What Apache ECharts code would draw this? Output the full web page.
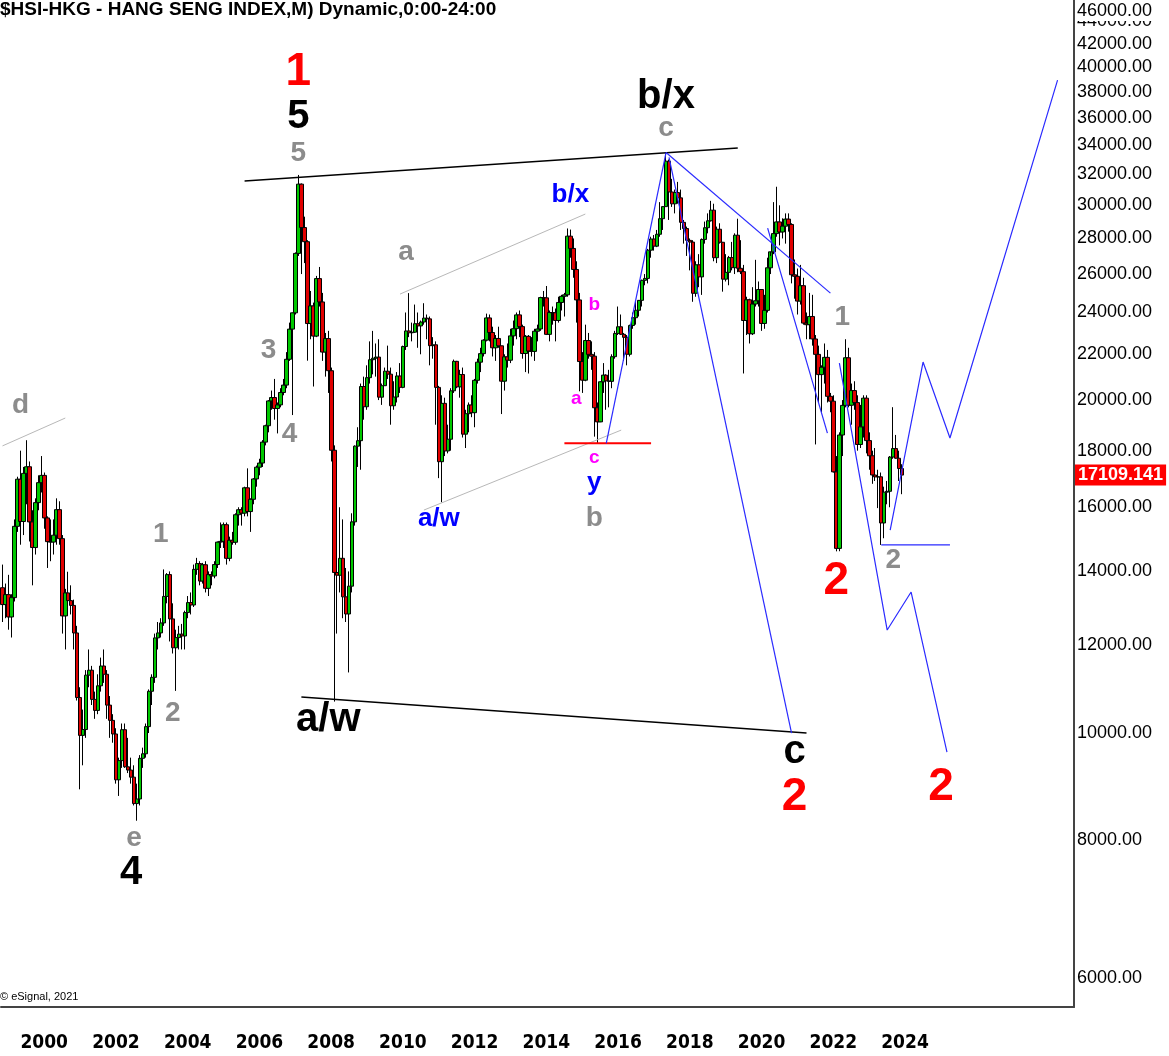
<!DOCTYPE html>
<html>
<head>
<meta charset="utf-8">
<script src="https://cdn.jsdelivr.net/npm/echarts@6/dist/echarts.min.js"></script>
<style>
html,body{margin:0;padding:0;background:#fff;}
#chart{width:1169px;height:1056px;}
</style>
</head>
<body>
<div id="chart"></div>
<script>
// ---------- DATA ----------
const startYear = 1999, startMonth = 7, monthCount = 359;   // axis runs Jul 1999 .. May 2029
const lastLabelYear = 2024;
const yTicks = [6000, 8000, 10000, 12000, 14000, 16000, 18000, 20000, 22000, 24000, 26000, 28000,
  30000, 32000, 34000, 36000, 38000, 40000, 42000, 44000];
const topTick = 46000;
const lastPrice = 17109.141;

// Monthly HSI candles [open, high, low, close], Jul 1999 .. Aug 2024
const candles = [
  // 1999 (Jul-Dec)
  [13532,14200,12600,13066],[13066,13650,12700,13339],[13339,13900,12400,12733],[12733,13350,12200,13256],[13256,15600,13150,15377],[15377,17050,15200,16962],
  // 2000
  [16962,18000,14800,15532],[15532,17400,15100,17169],[17169,18397,16100,17407],[17407,17600,14900,15519],[15519,15900,13600,14713],[14713,16300,14500,16155],
  [16155,17100,15900,16841],[16841,17800,16500,17097],[17097,17200,15300,15648],[15648,15700,14100,14895],[14895,15600,14300,14881],[14881,15600,14500,15096],
  // 2001
  [15096,16300,14800,15920],[15920,16200,14800,14988],[14988,15100,12300,12761],[12761,13500,11900,13387],[13387,13990,13000,13174],[13174,13600,12800,13043],
  [13043,13200,11900,12316],[12316,12500,10700,10767],[10767,11000,8894,9951],[9951,10500,9350,10073],[10073,11400,9900,11280],[11280,11900,11000,11397],
  // 2002
  [11397,11500,10600,10725],[10725,10900,10300,10482],[10482,11300,10400,11033],[11033,11700,10900,11497],[11497,11900,11100,11301],[11301,11400,10300,10598],
  [10598,10800,9900,10267],[10267,10400,9800,9980],[9980,10100,9000,9072],[9072,9500,8772,9442],[9442,10200,9300,10069],[10069,10200,9300,9321],
  // 2003
  [9321,9900,9200,9258],[9258,9500,9000,9122],[9122,9350,8600,8634],[8634,9000,8331,8717],[8717,9550,8600,9487],[9487,9700,9300,9577],
  [9577,10200,9500,10134],[10134,10950,10000,10908],[10908,11300,10600,11229],[11229,12300,11100,12190],[12190,12600,11900,12317],[12317,12700,12200,12576],
  // 2004
  [12576,14058,12500,13289],[13289,13950,13100,13907],[13907,14000,12100,12682],[12682,13100,11800,11942],[11942,12400,10917,12198],[12198,12500,11900,12286],
  [12286,12550,11900,12238],[12238,12900,11900,12850],[12850,13300,12700,13120],[13120,13400,12800,13054],[13054,14200,13000,14060],[14060,14400,13900,14230],
  // 2005
  [14230,14300,13600,13721],[13721,14250,13650,14195],[14195,14300,13400,13516],[13516,14000,13300,13908],[13908,14000,13600,13867],[13867,14300,13800,14201],
  [14201,14900,14100,14880],[14880,15500,14700,14903],[14903,15500,14700,15429],[15429,15500,14200,14386],[14386,15050,14300,14937],[14937,15200,14800,14876],
  // 2006
  [14876,15800,14800,15753],[15753,16000,15400,15918],[15918,16000,15400,15805],[15805,16700,15700,16661],[16661,17350,15700,15857],[15857,16300,15200,16267],
  [16267,17000,16100,16971],[16971,17450,16700,17392],[17392,17700,17100,17543],[17543,18400,17400,18324],[18324,19000,18200,18960],[18960,20000,18700,19965],
  // 2007
  [19965,20400,19600,20106],[20106,20900,19200,19651],[19651,19900,18659,19800],[19800,20500,19700,20318],[20318,20900,20200,20634],[20634,22100,20500,21773],
  [21773,23500,21700,23184],[23184,24000,19386,23984],[23984,27200,23900,27142],[27142,31958,27000,31352],[31352,31400,26000,28643],[28643,29300,26600,27812],
  // 2008
  [27812,27900,21709,23455],[23455,25100,22700,24331],[24331,24500,20572,22849],[22849,25900,22800,25755],[25755,26387,24300,24533],[24533,25000,21700,22102],
  [22102,23000,21000,22731],[22731,23100,20300,21261],[21261,21400,17600,18016],[18016,18200,10676,13969],[13969,15300,12300,13888],[13888,16000,13400,14387],
  // 2009
  [14387,15600,12700,13278],[13278,14100,12600,12812],[12812,14000,11344,13576],[13576,15800,13400,15521],[15521,18200,15400,18171],[18171,18900,17400,18379],
  [18379,20700,17300,20573],[20573,21000,19200,19724],[19724,21500,19600,20955],[20955,22600,20700,21753],[21753,23099,21100,21822],[21822,22500,21000,21873],
  // 2010
  [21873,22700,20000,20122],[20122,20700,19800,20608],[20608,21400,20600,21239],[21239,22400,20900,21108],[21108,21400,19000,19765],[19765,20800,19600,20129],
  [20129,21200,19900,21030],[21030,21600,20300,20536],[20536,22400,20500,22358],[22358,24000,22200,23096],[23096,24988,22800,23008],[23008,23500,22600,23035],
  // 2011
  [23035,24400,23000,23447],[23447,24000,22300,23338],[23338,23600,22000,23528],[23528,24468,23400,23720],[23720,23900,22700,23684],[23684,23800,21500,22398],
  [22398,22800,21800,22440],[22440,22600,19000,20535],[20535,20600,17000,17592],[17592,20200,16170,19864],[19864,20100,17800,17989],[17989,19000,17900,18434],
  // 2012
  [18434,20500,18000,20390],[20390,21760,20300,21680],[21680,21700,20500,20556],[20556,21300,20100,21094],[21094,21400,18500,18630],[18630,19600,18100,19441],
  [19441,19900,18700,19796],[19796,20200,19300,19482],[19482,20900,18900,20840],[20840,21800,20700,21642],[21642,22300,21200,22030],[22030,22700,21900,22657],
  // 2013
  [22657,23944,22600,23730],[23730,23900,22600,23020],[23020,23300,21900,22300],[22300,22900,21700,22737],[22737,23300,22300,22392],[22392,22400,19426,20803],
  [20803,22000,20400,21884],[21884,22500,21400,21731],[21731,23200,21600,22860],[22860,23600,22400,23206],[23206,24000,22700,23881],[23881,24100,22800,23306],
  // 2014
  [23306,23400,21800,22035],[22035,22900,21200,22837],[22837,22900,21137,22151],[22151,22800,21900,22134],[22134,23200,21700,23082],[23082,23400,22600,23191],
  [23191,24800,23100,24757],[24757,25100,24300,24742],[24742,25362,22900,22933],[22933,24100,22600,23998],[23998,24300,23400,23987],[23987,24200,22600,23605],
  // 2015
  [23605,24800,23500,24507],[24507,24900,24100,24823],[24823,25000,23800,24901],[24901,28588,24800,28133],[28133,28524,26900,27424],[27424,28000,25800,26250],
  [26250,26700,23500,24636],[24636,25000,20368,21671],[21671,22100,20300,20846],[20846,23400,20800,22640],[22640,23000,21800,21996],[21996,22600,21300,21914],
  // 2016
  [21914,22100,18534,19683],[19683,19900,18278,19112],[19112,20800,19100,20777],[20777,21600,20300,21067],[21067,21100,19600,20815],[20815,21300,19700,20794],
  [20794,22000,20500,21891],[21891,23100,21800,22977],[22977,24300,22900,23297],[23297,23900,22900,22935],[22935,23000,21700,22790],[22790,22900,21500,22001],
  // 2017
  [22001,23400,21900,23361],[23361,24000,23200,23741],[23741,24600,23400,24112],[24112,24600,23800,24615],[24615,25700,24300,25661],[25661,26000,25400,25765],
  [25765,27400,25500,27324],[27324,28100,26900,27970],[27970,28200,27300,27554],[27554,28500,27500,28246],[28246,30200,28100,29177],[29177,29900,28500,29919],
  // 2018
  [29919,33484,29900,32887],[32887,33000,29100,30845],[30845,31700,29900,30093],[30093,31000,29500,30808],[30808,31500,30100,30469],[30469,31000,28500,28955],
  [28955,29100,27700,28583],[28583,28700,27000,27889],[27889,28000,26200,27789],[27789,27900,24541,24980],[24980,26700,24800,26507],[26507,27100,25300,25846],
  // 2019
  [25846,28000,24896,27942],[27942,29000,27700,28633],[28633,29500,28300,29051],[29051,30280,29000,29699],[29699,30100,26700,26901],[26901,28700,26600,28543],
  [28543,28900,27700,27778],[27778,27800,25064,25725],[25725,27100,25600,26092],[26092,27000,25400,26907],[26907,27800,26200,26346],[26346,28300,26000,28190],
  // 2020
  [28190,29175,26100,26313],[26313,27900,26000,26130],[26130,26500,21139,23603],[23603,24800,22900,24644],[24644,24700,22500,22961],[22961,25300,22900,24427],
  [24427,26782,24300,24595],[24595,25600,24300,25177],[25177,25200,23100,23459],[23459,24900,23200,24107],[24107,26900,24000,26341],[26341,27000,26000,27231],
  // 2021
  [27231,30200,27100,28284],[28284,31183,28100,28980],[28980,30000,27600,28378],[28378,29200,28000,28725],[28725,29500,27700,29151],[29151,29500,28400,28828],
  [28828,28900,25500,25961],[25961,26800,24700,25878],[25878,26300,23900,24576],[24576,26500,24400,25377],[25377,25800,23400,23475],[23475,24000,22700,23398],
  // 2022
  [23398,25000,22700,23802],[23802,24900,22400,22713],[22713,22900,18235,21997],[21997,22400,19900,21089],[21089,21500,19500,21415],[21415,22500,20700,21860],
  [21860,22200,19900,20157],[20157,20300,19500,19954],[19954,20200,17200,17223],[17223,17800,14597,14687],[14687,18700,14600,18597],[18597,20000,17800,19781],
  // 2023
  [19781,22701,19700,21842],[21842,22300,19700,19786],[19786,20700,19000,20400],[20400,20800,19600,19895],[19895,20200,18000,18234],[18234,19800,18100,18916],
  [18916,20200,18500,20079],[20079,20200,17900,18382],[18382,18700,17300,17810],[17810,18000,16800,17112],[17112,18100,16900,17043],[17043,17300,15972,17047],
  // 2024 (Jan-Aug)
  [17047,17200,14794,15485],[15485,16700,15000,16511],[16511,16900,16100,16541],[16541,17800,16000,17763],[17763,19706,17700,18080],[18080,18600,17700,17719],
  [17719,18000,16900,17344],[17344,17500,16441,17109.141]
];

// Trend / projection lines [month, value]
const channelTop    = [['2006-04', 31550], ['2020-01', 33795]];
const channelBottom = [['2007-11', 10778], ['2021-12', 10000]];
const dLine         = [['1999-07', 18180], ['2001-04', 19266]];
const smallTop      = [['2010-08', 24938], ['2015-10', 29459]];
const smallBottom   = [['2011-04', 15907], ['2016-10', 18788]];
const redLevel      = [['2015-03', 18278], ['2017-08', 18278]];
const blueRise      = [['2016-05', 18278], ['2018-01', 33484]];
const blueDrop      = [['2018-02', 33154], ['2021-07', 10000]];
const blueTrend     = [['2018-01', 33484], ['2022-08', 24990]];
const blueDrop2     = [['2020-11', 28611], ['2022-07', 18672]];
const blueWave      = [['2022-11', 21602], ['2024-03', 12391], ['2024-11', 13411], ['2025-11', 9612]];
const blueUp        = [['2024-04', 15259], ['2025-03', 21648], ['2025-12', 18481], ['2028-12', 38932]];
const blueFloor     = [['2024-01', 14794], ['2025-12', 14794]];

// Wave labels [month, value, text]
const redLabels = [['2007-10', 39600, '1'], ['2021-08', 8753, '2'], ['2022-10', 13722, '2'], ['2025-09', 8937, '2']];
const blackLabels = [['2007-10', 36050, '5'], ['2018-01', 37580, 'b/x'], ['2003-02', 7472, '4'], ['2008-08', 10274, 'a/w'], ['2021-08', 9612, 'c']];
const grayLabels = [['2007-10', 33446, '5'], ['2018-01', 35234, 'c'], ['2010-10', 27216, 'a'], ['2016-01', 15644, 'b'],
  ['2000-01', 19793, 'd'], ['2006-12', 22195, '3'], ['2007-07', 18634, '4'], ['2003-12', 15132, '1'], ['2004-04', 10425, '2'],
  ['2003-03', 8037, 'e'], ['2022-12', 23772, '1'], ['2024-05', 14335, '2']];
const blueLabels = [['2015-05', 30645, 'b/x'], ['2016-01', 16827, 'y'], ['2011-09', 15613, 'a/w']];
const magentaLabels = [['2016-01', 24374, 'b'], ['2015-07', 20042, 'a'], ['2016-01', 17726, 'c']];

const titleText = '$HSI-HKG - HANG SENG INDEX,M) Dynamic,0:00-24:00';
const copyrightText = '\u00a9 eSignal, 2021';

// ---------- BUILD ----------
const months = [];
for (let i = 0; i < monthCount; i++) {
  const m = startMonth - 1 + i;
  months.push((startYear + Math.floor(m / 12)) + '-' + String(m % 12 + 1).padStart(2, '0'));
}
const candleData = candles.map(r => [r[0], r[3], r[2], r[1]]);

const FONT = "'Liberation Sans', Arial, sans-serif";
const fmt2 = v => Math.round(v).toFixed(2);

function lineSeries(pts, color, width) {
  return {
    type: 'line', data: pts, symbol: 'none', silent: true, z: 4, animation: false,
    lineStyle: { color: color, width: width }
  };
}
function labelSeries(items, color, size) {
  return {
    type: 'scatter', silent: true, z: 6, animation: false, symbolSize: 1,
    itemStyle: { color: 'rgba(0,0,0,0)', opacity: 1 },
    data: items.map(d => ({ name: d[2], value: [d[0], d[1]] })),
    label: { show: true, position: 'inside', formatter: '{b}', color: color, fontSize: size,
      fontWeight: 'bold', fontFamily: FONT, opacity: 1 }
  };
}

const chart = echarts.init(document.getElementById('chart'), null, { renderer: 'canvas' });
chart.setOption({
  animation: false,
  backgroundColor: '#ffffff',
  title: {
    text: titleText, left: 0, top: 0, padding: 0,
    textStyle: { fontSize: 19, fontWeight: 'bold', color: '#000', fontFamily: FONT }
  },
  graphic: [
    { type: 'text', left: 0, top: 991, z: 100,
      style: { text: copyrightText, fontSize: 11, fill: '#000', fontFamily: FONT } },
    { type: 'text', left: 1075, top: 1, z: 100,
      style: { text: fmt2(topTick), fontSize: 18, fill: '#000', fontFamily: FONT,
        backgroundColor: '#fff', padding: [1, 4, 1, 2] } }
  ],
  grid: { left: 1, right: 95, top: 0, bottom: 49, containLabel: false, outerBoundsMode: 'none' },
  xAxis: {
    type: 'category', data: months, boundaryGap: true,
    axisLine: { show: true, lineStyle: { color: '#444', width: 2 } },
    axisTick: { show: false },
    splitLine: { show: false },
    axisLabel: {
      interval: (idx, val) => val.endsWith('-01') && (+val.slice(0, 4)) % 2 === 0 && (+val.slice(0, 4)) <= lastLabelYear,
      formatter: v => v.slice(0, 4),
      align: 'left', margin: 27,
      fontSize: 19, fontWeight: 'bold', color: '#000',
      fontFamily: "'Liberation Sans Narrow', 'DejaVu Sans Condensed', 'Roboto Condensed', sans-serif"
    }
  },
  yAxis: {
    type: 'log', position: 'right', min: 5653, max: topTick, logBase: 10,
    axisLine: { show: true, lineStyle: { color: '#444', width: 2 } },
    axisTick: { show: false },
    splitLine: { show: false },
    axisLabel: {
      customValues: yTicks,
      margin: 3, fontSize: 18, color: '#000', fontFamily: FONT,
      formatter: v => fmt2(v)
    }
  },
  series: [
    {
      type: 'candlestick', data: candleData, barWidth: 4, z: 2,
      itemStyle: { color: '#00c800', color0: '#e00000', borderColor: '#000', borderColor0: '#000', borderWidth: 1 },
      markLine: {
        symbol: 'none', silent: true, animation: false,
        lineStyle: { color: 'rgba(0,0,0,0)', width: 0 },
        label: {
          position: 'end', distance: 1, formatter: String(lastPrice),
          backgroundColor: '#ff0000', color: '#fff', fontWeight: 'bold', fontSize: 18,
          fontFamily: FONT, padding: [2, 3, 1, 3]
        },
        data: [{ yAxis: lastPrice }]
      }
    },
    lineSeries(channelTop, '#000', 1.5),
    lineSeries(channelBottom, '#000', 1.5),
    lineSeries(dLine, '#b8b8b8', 1),
    lineSeries(smallTop, '#b8b8b8', 1),
    lineSeries(smallBottom, '#b8b8b8', 1),
    lineSeries(redLevel, '#ff0000', 2),
    lineSeries(blueRise, '#2a2aff', 1.2),
    lineSeries(blueDrop, '#2a2aff', 1.2),
    lineSeries(blueTrend, '#2a2aff', 1.2),
    lineSeries(blueDrop2, '#2a2aff', 1.2),
    lineSeries(blueWave, '#2a2aff', 1.2),
    lineSeries(blueUp, '#2a2aff', 1.2),
    lineSeries(blueFloor, '#2a2aff', 1.2),
    labelSeries(redLabels, '#ff0000', 46),
    labelSeries(blackLabels, '#000000', 40),
    labelSeries(grayLabels, '#8c8c8c', 28),
    labelSeries(blueLabels, '#0000ff', 26),
    labelSeries(magentaLabels, '#ff00ff', 19)
  ]
});
</script>
</body>
</html>
